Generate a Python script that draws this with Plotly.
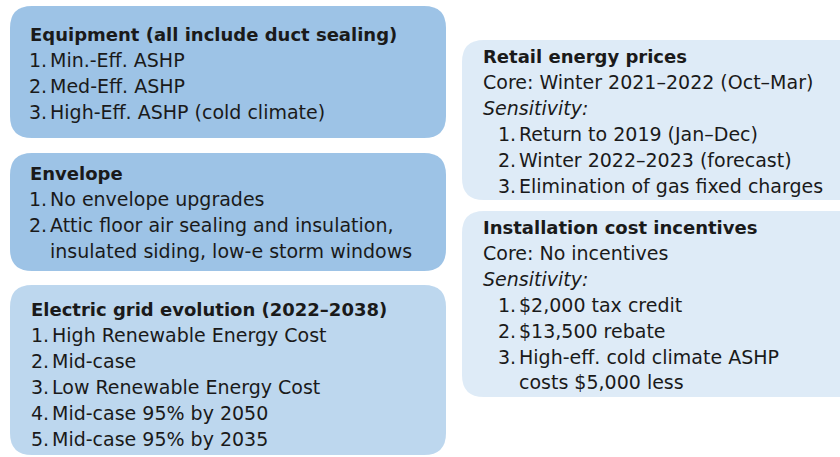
import plotly.graph_objects as go

# ---- data (text content) ----
box_titles = [
    "Equipment (all include duct sealing)",
    "Envelope",
    "Electric grid evolution (2022\u20132038)",
    "Retail energy prices",
    "Installation cost incentives",
]
equipment_items = ["Min.-Eff. ASHP", "Med-Eff. ASHP", "High-Eff. ASHP (cold climate)"]
envelope_items = ["No envelope upgrades",
                  "Attic floor air sealing and insulation,<br>insulated siding, low-e storm windows"]
grid_items = ["High Renewable Energy Cost", "Mid-case", "Low Renewable Energy Cost",
              "Mid-case 95% by 2050", "Mid-case 95% by 2035"]
prices_core = "Core: Winter 2021\u20132022 (Oct\u2013Mar)"
prices_items = ["Return to 2019 (Jan\u2013Dec)", "Winter 2022\u20132023 (forecast)",
                "Elimination of gas fixed charges"]
incent_core = "Core: No incentives"
incent_items = ["$2,000 tax credit", "$13,500 rebate",
                "High-eff. cold climate ASHP<br>costs $5,000 less"]
sens_label = "Sensitivity:"

# ---- layout ----
W, H = 840, 457
FONT = "DejaVu Sans"
FS = 19
FS_T = 18
LH = 25.9
TXT = "#1a1a1a"

fig = go.Figure()


def rpath(x0, y0, x1, y1, r):
    return (f"M{x0+r},{y0} L{x1-r},{y0} Q{x1},{y0} {x1},{y0+r} L{x1},{y1-r} "
            f"Q{x1},{y1} {x1-r},{y1} L{x0+r},{y1} Q{x0},{y1} {x0},{y1-r} "
            f"L{x0},{y0+r} Q{x0},{y0} {x0+r},{y0} Z")


boxes = [
    (10, 6, 446, 138, "#9DC3E6"),
    (10, 153, 446, 271, "#9DC3E6"),
    (10, 285, 446, 455, "#BDD7EE"),
    (462, 40, 880, 200, "#DEEBF7"),
    (462, 211, 880, 397, "#DEEBF7"),
]
shapes = []
for x0, y0, x1, y1, c in boxes:
    shapes.append(dict(type="path", path=rpath(x0, y0, x1, y1, 22), xref="x", yref="y",
                       fillcolor=c, line=dict(width=0), layer="below"))

ann = []


def text(x, y, s, bold=False, italic=False):
    if bold:
        s = f"<b>{s}</b>"
    if italic:
        s = f"<i>{s}</i>"
    ann.append(dict(x=x, y=y, xref="x", yref="y", text=s, showarrow=False,
                    xanchor="left", yanchor="middle", align="left",
                    font=dict(family=FONT, size=FS_T if bold else FS, color=TXT)))


def block(x, y_title, title, items, numx, textx, pre=None):
    text(x, y_title, title, bold=True)
    y = y_title + LH
    if pre:
        for p, it in pre:
            text(x, y, p, italic=it)
            y += LH
    for i, it in enumerate(items):
        text(numx, y, f"{i+1}.")
        for part in it.split("<br>"):
            text(textx, y, part)
            y += LH


block(28, 34, box_titles[0], equipment_items, 27, 48)
block(28, 173, box_titles[1], envelope_items, 27, 48)
block(29, 309, box_titles[2], grid_items, 29, 50)
block(481, 56, box_titles[3], prices_items, 496, 517,
      pre=[(prices_core, False), (sens_label, True)])
block(481, 227, box_titles[4], incent_items, 496, 517,
      pre=[(incent_core, False), (sens_label, True)])

fig.update_layout(
    width=W, height=H, margin=dict(l=0, r=0, t=0, b=0),
    paper_bgcolor="white", plot_bgcolor="white",
    xaxis=dict(range=[0, W], visible=False, fixedrange=True),
    yaxis=dict(range=[H, 0], visible=False, fixedrange=True),
    shapes=shapes, annotations=ann, showlegend=False,
)
fig.write_html("out.html", config={"displayModeBar": False},
               post_script="document.body.style.margin='0';")
